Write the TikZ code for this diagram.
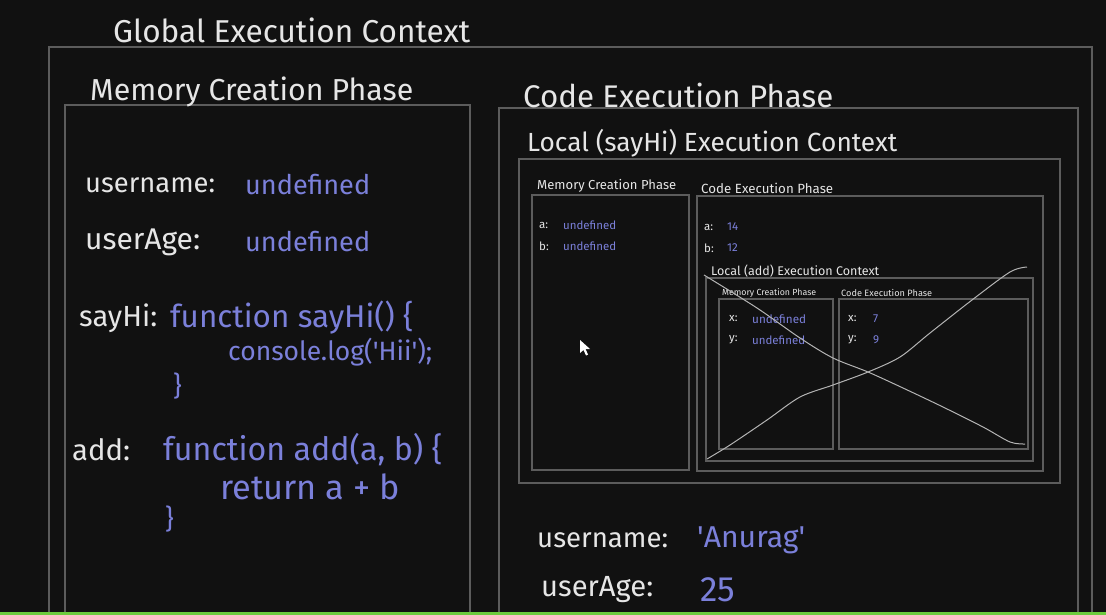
\documentclass[tikz,border=0pt]{standalone}
\usepackage{fontspec}
\setmainfont{Fira Sans}
\usepackage{graphicx}
\definecolor{bg}{HTML}{111111}
\definecolor{fg}{HTML}{E6E6E6}
\definecolor{bl}{HTML}{7B80DA}
\definecolor{frm}{HTML}{5C5C5C}
\definecolor{xline}{HTML}{B4B4B4}
\definecolor{grn}{HTML}{6CCB3E}
\newcommand{\fw}[2]{\resizebox{#1pt}{!}{#2}}
\newcommand{\sq}{\textquotesingle}
\begin{document}
\begin{tikzpicture}[x=1pt,y=-1pt,
  box/.style={draw=frm, line width=1.2pt},
  lbl/.style={anchor=west, inner sep=0pt, text=fg},
  val/.style={anchor=west, inner sep=0pt, text=bl},
  big/.style={font=\fontsize{27}{27}\selectfont},
  sm/.style={font=\fontsize{11.5}{11.5}\selectfont},
  xl/.style={draw=xline, line width=1pt}
]
\fill[bg] (0,0) rectangle (1106,615);
\useasboundingbox (0,0) rectangle (1106,615);
\fill[grn] (0,612) rectangle (1106,615);

% frames
\draw[box] (49,612) -- (49,47) -- (1092,47) -- (1092,612);
\draw[box] (65,612) -- (65,105) -- (470,105) -- (470,612);
\draw[box] (499,612) -- (499,108) -- (1078,108) -- (1078,612);
\draw[box] (519,159) rectangle (1060,483);
\draw[box] (532,195) rectangle (689,470);
\draw[box] (697,196) rectangle (1043,471);
\draw[box] (706,278) rectangle (1033,461);
\draw[box] (719,299) rectangle (833,449);
\draw[box] (839,299) rectangle (1028,449);

% titles
\node[lbl] (gec) at (113,30) {\fw{357}{Global Execution Context}};
\node[lbl] (mcp) at (90,92) {\fw{323}{Memory Creation Phase}};
\node[lbl] (cep) at (523,95) {\fw{310}{Code Execution Phase}};
\node[lbl] (lsh) at (527,143) {\fw{370}{Local (sayHi) Execution Context}};
\node[lbl] (mcp2) at (537,186) {\fw{139}{Memory Creation Phase}};
\node[lbl] (cep2) at (701,188) {\fw{132}{Code Execution Phase}};
\node[lbl] (lad) at (711,271) {\fw{168}{Local (add) Execution Context}};
\node[lbl] (mcp3) at (722,293) {\fw{94}{Memory Creation Phase}};
\node[lbl] (cep3) at (841,293) {\fw{91}{Code Execution Phase}};

% sayHi memory
\node[lbl,sm] (a1) at (539,225) {a:};
\node[val] (a1v) at (563,225) {\fw{53}{undefined}};
\node[lbl,sm] (b1) at (539,246) {b:};
\node[val] (b1v) at (563,246) {\fw{53}{undefined}};
% sayHi code
\node[lbl,sm] (a2) at (704,227) {a:};
\node[val,sm] (a2v) at (727,227) {14};
\node[lbl,sm] (b2) at (704,248) {b:};
\node[val,sm] (b2v) at (727,248) {12};
% add memory
\node[lbl,sm] (x1) at (729,319) {x:};
\node[val] (x1v) at (752,319) {\fw{54}{undefined}};
\node[lbl,sm] (y1) at (729,340) {y:};
\node[val] (y1v) at (752,340) {\fw{53}{undefined}};
% add code
\node[lbl,sm] (x2) at (848,319) {x:};
\node[val,sm] (x2v) at (873,319) {7};
\node[lbl,sm] (y2) at (848,340) {y:};
\node[val,sm] (y2v) at (873,340) {9};

% cross
\draw[xl] plot[smooth] coordinates {(704,275) (757,308) (800,338) (833,358) (868,372) (903,388) (943,407) (983,427) (1010,442) (1025,444)};
\draw[xl] plot[smooth] coordinates {(707,459) (730,445) (767,420) (800,397) (833,385) (868,372) (900,357) (930,333) (972,300) (1010,272) (1027,267)};

% cursor
\fill[white] (580,340) -- (580,353) -- (583.5,350) -- (586,355.5) -- (588,354.5) -- (585.5,349) -- (590,349) -- cycle;

% global memory
\node[lbl] (un) at (85,185) {\fw{130}{username:}};
\node[val] (unv) at (245,185) {\fw{125}{undefined}};
\node[lbl] (ua) at (85,242) {\fw{115}{userAge:}};
\node[val] (uav) at (245,242) {\fw{125}{undefined}};
\node[lbl] (sh) at (79,318) {\fw{78}{sayHi:}};
\node[val] (shv) at (170,318) {\fw{243}{function sayHi() \{}};
\node[val] (shc) at (228,352) {\fw{204}{console.log(\sq Hii\sq);}};
\node[val,big] (shb) at (173,386) {\}};
\node[lbl] (ad) at (72,450) {\fw{58}{add:}};
\node[val] (adv) at (163,450) {\fw{279}{function add(a, b) \{}};
\node[val] (adr) at (220,487) {\fw{180}{return a + b}};
\node[val,big] (adb) at (165,519) {\}};

% code phase values
\node[lbl] (un2) at (537,540) {\fw{131}{username:}};
\node[val] (un2v) at (697,540) {\fw{108}{\sq Anurag\sq}};
\node[lbl] (ua2) at (541,590) {\fw{112}{userAge:}};
\node[val] (ua2v) at (700,590) {\fw{35}{25}};
\end{tikzpicture}
\end{document}
